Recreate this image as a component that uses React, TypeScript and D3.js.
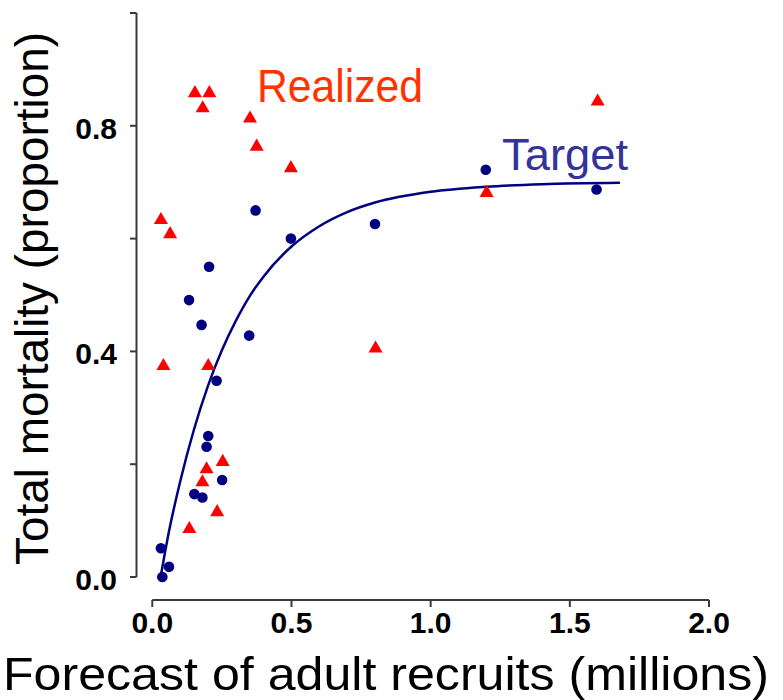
import React, { useEffect, useRef } from 'react';
import * as d3 from 'd3';

// forecast recruits (millions) vs total mortality
const targetX = [0.031, 0.06, 0.036, 0.201, 0.195, 0.151, 0.18, 0.251, 0.204, 0.132, 0.177, 0.348, 0.231, 0.371, 0.498, 0.8, 1.198, 1.596];
const targetY = [0.051, 0.018, 0.0, 0.25, 0.231, 0.147, 0.141, 0.172, 0.55, 0.491, 0.447, 0.428, 0.348, 0.65, 0.6, 0.626, 0.722, 0.687];

const realizedX = [0.153, 0.205, 0.181, 0.351, 0.375, 0.498, 0.031, 0.064, 0.04, 0.201, 0.253, 0.195, 0.18, 0.233, 0.133, 0.802, 1.201, 1.6];
const realizedY = [0.858, 0.858, 0.831, 0.813, 0.763, 0.725, 0.633, 0.608, 0.374, 0.374, 0.204, 0.191, 0.168, 0.115, 0.085, 0.405, 0.681, 0.843];

// fitted curve
const curveX = [0.03, 0.06, 0.1, 0.15, 0.2, 0.25, 0.3, 0.35, 0.4, 0.5, 0.6, 0.7, 0.8, 1.0, 1.2, 1.4, 1.68];
const curveY = [0.0, 0.081, 0.169, 0.262, 0.339, 0.402, 0.454, 0.498, 0.533, 0.586, 0.622, 0.647, 0.664, 0.683, 0.692, 0.6965, 0.699];

const xTicks = [0, 0.5, 1, 1.5, 2];
const yTicks = [0, 0.2, 0.4, 0.6, 0.8, 1.0];
const yLabelled = [0, 0.4, 0.8];

export default function App() {
  const svgRef = useRef<SVGSVGElement>(null);

  useEffect(() => {
    const svg = d3.select(svgRef.current);
    svg.selectAll('*').remove();

    const x = d3.scaleLinear().domain([0, 2]).range([152.3, 709]);
    const y = d3.scaleLinear().domain([0, 1]).range([577, 13]);
    const font = '"Liberation Sans", Arial, sans-serif';
    const axisColor = '#3a3a3a';

    // y axis
    const ya = svg.append('g');
    ya.append('line')
      .attr('x1', 136.5).attr('x2', 136.5)
      .attr('y1', y(0)).attr('y2', y(1))
      .attr('stroke', axisColor).attr('stroke-width', 2);
    ya.selectAll('.yt')
      .data(yTicks)
      .join('line')
      .attr('x1', 130).attr('x2', 136.5)
      .attr('y1', (d: number) => y(d)).attr('y2', (d: number) => y(d))
      .attr('stroke', axisColor).attr('stroke-width', 2);
    ya.selectAll('.yl')
      .data(yLabelled)
      .join('text')
      .attr('x', 117)
      .attr('y', (d: number) => y(d) + 13)
      .attr('text-anchor', 'end')
      .attr('font-family', font)
      .attr('font-weight', 'bold')
      .attr('font-size', 30)
      .text((d: number) => d3.format('.1f')(d));

    // x axis
    const xa = svg.append('g');
    xa.append('line')
      .attr('x1', x(0)).attr('x2', x(2))
      .attr('y1', 600).attr('y2', 600)
      .attr('stroke', axisColor).attr('stroke-width', 2);
    xa.selectAll('.xt')
      .data(xTicks)
      .join('line')
      .attr('x1', (d: number) => x(d)).attr('x2', (d: number) => x(d))
      .attr('y1', 600).attr('y2', 607)
      .attr('stroke', axisColor).attr('stroke-width', 2);
    xa.selectAll('.xl')
      .data(xTicks)
      .join('text')
      .attr('x', (d: number) => x(d))
      .attr('y', 633)
      .attr('text-anchor', 'middle')
      .attr('font-family', font)
      .attr('font-weight', 'bold')
      .attr('font-size', 30)
      .text((d: number) => d3.format('.1f')(d));

    // axis titles
    svg.append('text')
      .attr('x', 3).attr('y', 690)
      .attr('font-family', font)
      .attr('font-size', 46)
      .attr('textLength', 766)
      .attr('lengthAdjust', 'spacingAndGlyphs')
      .text('Forecast of adult recruits (millions)');
    svg.append('text')
      .attr('transform', 'translate(48,565) rotate(-90)')
      .attr('font-family', font)
      .attr('font-size', 46)
      .attr('textLength', 533)
      .attr('lengthAdjust', 'spacingAndGlyphs')
      .text('Total mortality (proportion)');

    // fitted line
    const line = d3.line<number>()
      .x((d: number) => x(d))
      .y((d: number, i: number) => y(curveY[i]))
      .curve(d3.curveMonotoneX);
    svg.append('path')
      .attr('d', line(curveX))
      .attr('fill', 'none')
      .attr('stroke', '#000080')
      .attr('stroke-width', 2.5);

    // target points
    svg.append('g')
      .selectAll('circle')
      .data(targetX)
      .join('circle')
      .attr('cx', (d: number) => x(d))
      .attr('cy', (d: number, i: number) => y(targetY[i]))
      .attr('r', 5.3)
      .attr('fill', '#000080');

    // realized points
    const tri = d3.symbol().type(d3.symbolTriangle).size(85);
    svg.append('g')
      .selectAll('path')
      .data(realizedX)
      .join('path')
      .attr('d', tri())
      .attr('transform', (d: number, i: number) => `translate(${x(d)},${y(realizedY[i])})`)
      .attr('fill', '#ff0000');

    // series labels
    svg.append('text')
      .attr('x', 257).attr('y', 102)
      .attr('font-family', font)
      .attr('font-size', 46)
      .attr('textLength', 166)
      .attr('lengthAdjust', 'spacingAndGlyphs')
      .attr('fill', '#ff3300')
      .text('Realized');
    svg.append('text')
      .attr('x', 502).attr('y', 170)
      .attr('font-family', font)
      .attr('font-size', 44)
      .attr('textLength', 126)
      .attr('lengthAdjust', 'spacingAndGlyphs')
      .attr('fill', '#333399')
      .text('Target');
  }, []);

  return (
    <div>
      <svg
        ref={svgRef}
        width={783}
        height={700}
        style={{ position: 'absolute', left: 0, top: 0, background: '#fff' }}
      ></svg>
    </div>
  );
}
